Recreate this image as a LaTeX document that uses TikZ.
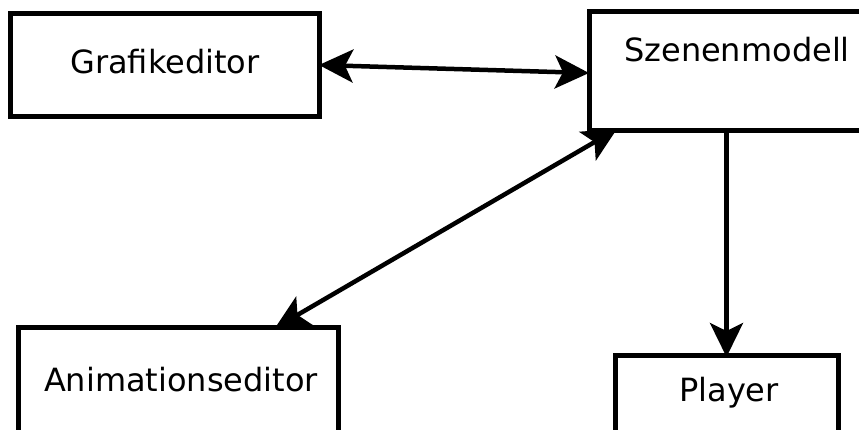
\documentclass[tikz,border=0pt]{standalone}
\usepackage{fontspec}
\setmainfont{DejaVu Sans}
\usetikzlibrary{arrows.meta}
\begin{document}
\begin{tikzpicture}[x=1pt,y=-1pt,
  box/.style={draw, line width=5pt, rectangle, inner sep=0pt, outer sep=0pt},
  lbl/.style={font=\fontsize{32}{38}\selectfont, inner sep=0pt},
  link/.style={line width=4.5pt, {Stealth[length=34pt,width=33pt,inset=8pt]}-{Stealth[length=34pt,width=33pt,inset=8pt]}},
  flow/.style={line width=4.5pt, -{Stealth[length=34pt,width=33pt,inset=8pt]}}]
  \useasboundingbox (0,0) rectangle (859,430);
  \clip (0,0) rectangle (859,430);
  % boxes
  \node[box, minimum width=309pt, minimum height=103pt] (graf) at (164.5,65.5) {};
  \node[box, minimum width=300pt, minimum height=119pt] (szene) at (739,71.5) {};
  \node[box, minimum width=320pt, minimum height=140pt] (anim) at (178,397) {};
  \node[box, minimum width=223pt, minimum height=110pt] (player) at (726.5,410) {};
  % labels
  \node[lbl] (grafT) at (165,62) {Grafikeditor};
  \node[lbl] (szeneT) at (737,50) {Szenenmodell};
  \node[lbl] (animT) at (181,380) {Animationseditor};
  \node[lbl] (playerT) at (729,393) {Player};
  % connectors
  \draw[link] ([yshift=0.5pt]graf.east) -- ([yshift=-1.5pt]szene.west);
  \draw[link] ([xshift=-63pt,yshift=-1pt]anim.north east) -- ([xshift=28pt,yshift=2pt]szene.south west);
  \draw[flow] (player.north |- szene.south) -- ([yshift=-2pt]player.north);
\end{tikzpicture}
\end{document}
